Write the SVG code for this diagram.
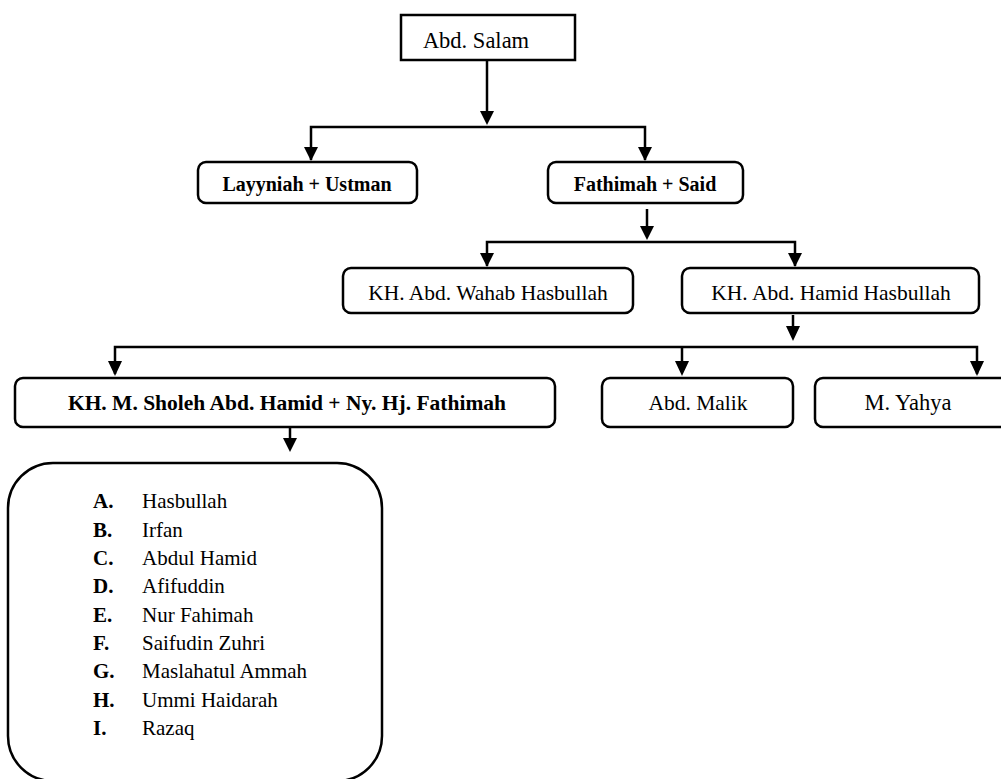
<svg xmlns="http://www.w3.org/2000/svg" width="1001" height="779" viewBox="0 0 1001 779">
<defs>
<marker id="ah" viewBox="0 0 14 15" refX="7" refY="15" markerWidth="14" markerHeight="15" markerUnits="userSpaceOnUse" orient="auto-start-reverse">
<path d="M0,0 L14,0 L7,15 Z" fill="#000"/>
</marker>
</defs>
<style>
.box{fill:#fff;stroke:#000;stroke-width:2.5}
.t{font-family:"Liberation Serif","Times New Roman",serif;font-size:21.5px;fill:#000;text-anchor:middle}
.b{font-weight:bold}
.l{font-family:"Liberation Serif","Times New Roman",serif;font-size:21px;fill:#000}
.c{fill:none;stroke:#000;stroke-width:2.5}
</style>
<rect width="1001" height="779" fill="#fff"/>
<g id="connectors">
<path class="c" d="M487,60 V112"/>
<path d="M480,111 L494,111 L487,125 Z"/>
<path class="c" d="M311,160 V127 H645 V160"/>
<path d="M304,147 L318,147 L311,161 Z"/>
<path d="M638,147 L652,147 L645,161 Z"/>
<path class="c" d="M647,209 V230"/>
<path d="M640,226 L654,226 L647,240 Z"/>
<path class="c" d="M487,266 V242 H795 V266"/>
<path d="M480,253 L494,253 L487,267 Z"/>
<path d="M788,253 L802,253 L795,267 Z"/>
<path class="c" d="M793,315 V330"/>
<path d="M786,326 L800,326 L793,341 Z"/>
<path class="c" d="M115,374 V347 H977 V374"/>
<path d="M108,361 L122,361 L115,376 Z"/>
<path d="M675,361 L689,361 L682,376 Z"/>
<path class="c" d="M682,347 V370"/>
<path d="M970,361 L984,361 L977,376 Z"/>
<path class="c" d="M290,428 V440"/>
<path d="M283,438 L297,438 L290,452 Z"/>
</g>
<g id="n-abdsalam">
<rect class="box" x="401" y="15" width="174" height="45"/>
<text class="t" x="476" y="48" style="text-anchor:middle;font-size:22.5px">Abd. Salam</text>
</g>
<g id="n-layyniah">
<rect class="box" x="198" y="162" width="219" height="41" rx="8"/>
<text class="t b" x="307" y="191" style="font-size:20px">Layyniah + Ustman</text>
</g>
<g id="n-fathimah">
<rect class="box" x="548" y="162" width="195" height="41" rx="8"/>
<text class="t b" x="645" y="191" style="font-size:20px">Fathimah + Said</text>
</g>
<g id="n-wahab">
<rect class="box" x="343" y="268" width="290" height="45" rx="8"/>
<text class="t" x="488" y="300">KH. Abd. Wahab Hasbullah</text>
</g>
<g id="n-hamid">
<rect class="box" x="682" y="268" width="297" height="45" rx="8"/>
<text class="t" x="831" y="300">KH. Abd. Hamid Hasbullah</text>
</g>
<g id="n-sholeh">
<rect class="box" x="15" y="378" width="540" height="49" rx="8"/>
<text class="t b" x="287" y="410">KH. M. Sholeh Abd. Hamid + Ny. Hj. Fathimah</text>
</g>
<g id="n-malik">
<rect class="box" x="602" y="378" width="191" height="49" rx="8"/>
<text class="t" x="698" y="410" style="font-size:21.5px">Abd. Malik</text>
</g>
<g id="n-yahya">
<rect class="box" x="815" y="378" width="200" height="49" rx="8"/>
<text class="t" x="908" y="410" style="font-size:22.5px">M. Yahya</text>
</g>
<g id="n-children">
<rect class="box" x="8" y="463" width="374" height="318" rx="45"/>
<text class="l b" x="93" y="508">A.</text><text class="l" x="142" y="508">Hasbullah</text>
<text class="l b" x="93" y="537">B.</text><text class="l" x="142" y="537">Irfan</text>
<text class="l b" x="93" y="565">C.</text><text class="l" x="142" y="565">Abdul Hamid</text>
<text class="l b" x="93" y="593">D.</text><text class="l" x="142" y="593">Afifuddin</text>
<text class="l b" x="93" y="622">E.</text><text class="l" x="142" y="622">Nur Fahimah</text>
<text class="l b" x="93" y="650">F.</text><text class="l" x="142" y="650">Saifudin Zuhri</text>
<text class="l b" x="93" y="678">G.</text><text class="l" x="142" y="678">Maslahatul Ammah</text>
<text class="l b" x="93" y="707">H.</text><text class="l" x="142" y="707">Ummi Haidarah</text>
<text class="l b" x="93" y="735">I.</text><text class="l" x="142" y="735">Razaq</text>
</g>
</svg>
